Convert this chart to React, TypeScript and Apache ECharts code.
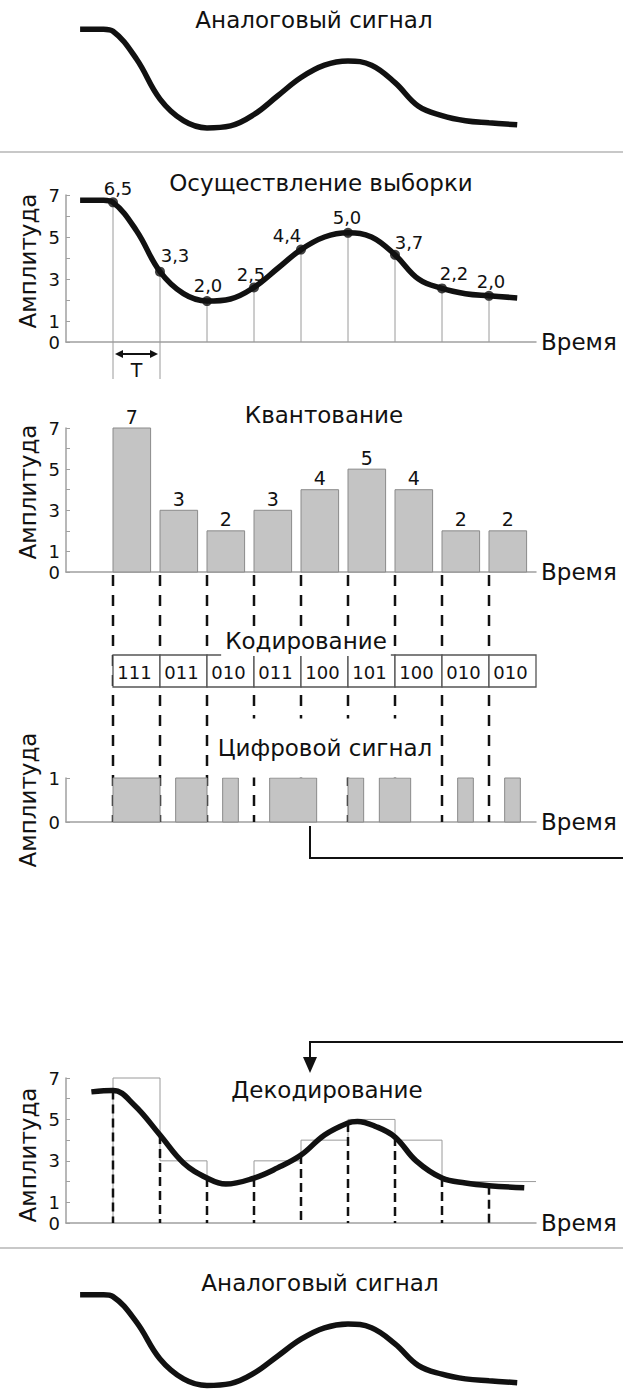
import React, { useEffect, useRef } from "react";
import * as echarts from "echarts";

// ---------- data ----------
const sampleTimes = [1, 2, 3, 4, 5, 6, 7, 8, 9];
const sampleLabels = ["6,5", "3,3", "2,0", "2,5", "4,4", "5,0", "3,7", "2,2", "2,0"];
const sampleDots = [6.65, 3.35, 1.95, 2.6, 4.4, 5.2, 4.15, 2.55, 2.2];
const analogCurve = [
  [0.3, 6.75], [0.8, 6.75], [1, 6.65], [1.5, 5.3], [2, 3.35], [2.5, 2.3],
  [3, 1.95], [3.5, 2.05], [4, 2.6], [4.5, 3.5], [5, 4.4], [5.5, 5.0],
  [6, 5.2], [6.5, 5.0], [7, 4.15], [7.5, 3.0], [8, 2.55], [8.5, 2.3],
  [9, 2.2], [9.6, 2.1],
];
const quantLevels = [7, 3, 2, 3, 4, 5, 4, 2, 2];
const codeWords = ["111", "011", "010", "011", "100", "101", "100", "010", "010"];
const decodeCurve = [
  [0.54, 6.33], [1, 6.4], [1.45, 5.7], [2, 4.25], [2.5, 2.9], [3, 2.17],
  [3.4, 1.88], [4, 2.17], [4.5, 2.66], [5, 3.28], [5.5, 4.25], [6, 4.83],
  [6.2, 4.9], [6.6, 4.65], [7, 4.15], [7.45, 3.0], [8, 2.17], [8.5, 1.93],
  [9, 1.8], [9.75, 1.7],
];
const decodeDrops = [6.4, 4.25, 2.17, 2.17, 3.28, 4.83, 4.15, 2.17, 1.8];
const yTickLabels = [0, 1, 3, 5, 7];
const digitalTickLabels = [0, 1];

// ---------- layout / style ----------
const W = 623;
const H = 1394;
const FONT = '"DejaVu Sans", "Liberation Sans", Arial, sans-serif';
const INK = "#111";
const AXIS = "#a0a0a0";
const BAR_FILL = "#c4c4c4";
const BAR_STROKE = "#8a8a8a";
const BAR_W = 0.8;
const GRID_LEFT = 66;
const GRID_W = 470;
const labelOffsets = [[5, -14], [15, -16], [1, -16], [-3, -13], [-14, -14], [-1, -15], [14, -12], [12, -15], [2, -14]];

const gridBoxes = [
  { top: 24, height: 144 }, // 0 top analog
  { top: 195, height: 147 }, // 1 sampling
  { top: 428, height: 144 }, // 2 quantization
  { top: 575, height: 247 }, // 3 connectors
  { top: 778, height: 44 }, // 4 digital
  { top: 655, height: 32 }, // 5 code box
  { top: 1078, height: 145 }, // 6 decoding
  { top: 1290, height: 105 }, // 7 bottom analog
];

function buildRuns() {
  const bits = codeWords.join("").split("").map(Number);
  const runs: number[][] = [];
  let k = 0;
  while (k < bits.length) {
    if (bits[k] === 1) {
      const s = k;
      while (k < bits.length && bits[k] === 1) k++;
      runs.push([sampleTimes[0] + s / 3, sampleTimes[0] + k / 3]);
    } else k++;
  }
  return runs;
}

function xAxisFor(i: number, visible: boolean) {
  return {
    gridIndex: i,
    type: "value",
    min: 0,
    max: 10,
    show: visible,
    axisLine: { show: visible, onZero: false, lineStyle: { color: AXIS, width: 1.5 } },
    axisTick: { show: false },
    axisLabel: { show: false },
    splitLine: { show: false },
    name: visible ? "Время" : "",
    nameLocation: "end",
    nameGap: 5,
    nameTextStyle: { fontSize: 23, color: INK, fontFamily: FONT },
  };
}

function yAxisFor(i: number, visible: boolean, min: number, max: number, shown: number[]) {
  return {
    gridIndex: i,
    type: "value",
    min,
    max,
    interval: 1,
    show: visible,
    axisLine: { show: visible, lineStyle: { color: AXIS, width: 1.5 } },
    axisTick: { show: visible, inside: true, length: 4, lineStyle: { color: AXIS } },
    axisLabel: {
      show: visible,
      margin: 6,
      fontSize: 18,
      color: INK,
      fontFamily: FONT,
      formatter: (v: number) => (shown.indexOf(v) >= 0 ? String(v) : ""),
    },
    splitLine: { show: false },
  };
}

function thickLine(idx: number, data: number[][], width: number) {
  return {
    type: "line",
    xAxisIndex: idx,
    yAxisIndex: idx,
    data,
    smooth: 0.4,
    symbol: "none",
    clip: false,
    lineStyle: { color: "#111", width },
    z: 4,
  };
}

export default function App() {
  const ref = useRef<HTMLDivElement>(null);

  useEffect(() => {
    if (!ref.current) return;
    const chart = echarts.init(ref.current, undefined, { renderer: "svg" });
    const runs = buildRuns();

    const grid = gridBoxes.map((g) => ({ left: GRID_LEFT, width: GRID_W, top: g.top, height: g.height, containLabel: false }));
    const xAxis = [
      xAxisFor(0, false),
      xAxisFor(1, true),
      xAxisFor(2, true),
      xAxisFor(3, false),
      xAxisFor(4, true),
      xAxisFor(5, false),
      xAxisFor(6, true),
      xAxisFor(7, false),
    ];
    const yAxis = [
      yAxisFor(0, false, 0, 7, yTickLabels),
      yAxisFor(1, true, 0, 7, yTickLabels),
      yAxisFor(2, true, 0, 7, yTickLabels),
      yAxisFor(3, false, 0, 1, digitalTickLabels),
      yAxisFor(4, true, 0, 1, digitalTickLabels),
      yAxisFor(5, false, 0, 1, digitalTickLabels),
      yAxisFor(6, true, 0, 7, yTickLabels),
      yAxisFor(7, false, 1.5, 7, yTickLabels),
    ];

    const series: any[] = [
      // top analog
      thickLine(0, analogCurve, 5.5),
      // sampling stems
      {
        type: "custom",
        xAxisIndex: 1,
        yAxisIndex: 1,
        clip: false,
        z: 2,
        data: sampleTimes.map((t, i) => [t, sampleDots[i]]),
        renderItem: (params: any, api: any) => {
          const t = api.value(0);
          const v = api.value(1);
          const a = api.coord([t, v]);
          const b = api.coord([t, 0]);
          const ext = params.dataIndex < 2 ? 37 : 0;
          return {
            type: "line",
            shape: { x1: a[0], y1: a[1], x2: b[0], y2: b[1] + ext },
            style: { stroke: "#9a9a9a", lineWidth: 1 },
          };
        },
      },
      // T bracket
      {
        type: "custom",
        xAxisIndex: 1,
        yAxisIndex: 1,
        clip: false,
        z: 3,
        data: [[sampleTimes[0], sampleTimes[1]]],
        renderItem: (params: any, api: any) => {
          const a = api.coord([api.value(0), 0]);
          const b = api.coord([api.value(1), 0]);
          const y = a[1] + 12;
          const x1 = a[0] + 2;
          const x2 = b[0] - 2;
          return {
            type: "group",
            children: [
              { type: "line", shape: { x1: x1 + 4, y1: y, x2: x2 - 4, y2: y }, style: { stroke: "#111", lineWidth: 2 } },
              { type: "polygon", shape: { points: [[x1, y], [x1 + 8, y - 4], [x1 + 8, y + 4]] }, style: { fill: "#111" } },
              { type: "polygon", shape: { points: [[x2, y], [x2 - 8, y - 4], [x2 - 8, y + 4]] }, style: { fill: "#111" } },
              {
                type: "text",
                x: (a[0] + b[0]) / 2,
                y: y + 16,
                style: { text: "T", fontSize: 19, fontFamily: FONT, fill: INK, align: "center", verticalAlign: "middle" },
              },
            ],
          };
        },
      },
      thickLine(1, analogCurve, 5.5),
      // sample dots
      {
        type: "scatter",
        xAxisIndex: 1,
        yAxisIndex: 1,
        symbolSize: 10,
        z: 5,
        itemStyle: { color: "#111" },
        data: sampleTimes.map((t, i) => [t, sampleDots[i]]),
      },
      // sample value labels
      {
        type: "custom",
        xAxisIndex: 1,
        yAxisIndex: 1,
        clip: false,
        z: 6,
        data: sampleTimes.map((t, i) => [t, sampleDots[i]]),
        renderItem: (params: any, api: any) => {
          const p = api.coord([api.value(0), api.value(1)]);
          const off = labelOffsets[params.dataIndex];
          return {
            type: "text",
            x: p[0] + off[0],
            y: p[1] + off[1],
            style: {
              text: sampleLabels[params.dataIndex],
              fontSize: 18,
              fontFamily: FONT,
              fill: INK,
              align: "center",
              verticalAlign: "middle",
            },
          };
        },
      },
      // quantization bars
      {
        type: "custom",
        xAxisIndex: 2,
        yAxisIndex: 2,
        clip: false,
        z: 3,
        data: sampleTimes.map((t, i) => [t, quantLevels[i]]),
        renderItem: (params: any, api: any) => {
          const t = api.value(0);
          const q = api.value(1);
          const a = api.coord([t, q]);
          const b = api.coord([t + BAR_W, 0]);
          return {
            type: "group",
            children: [
              {
                type: "rect",
                shape: { x: a[0], y: a[1], width: b[0] - a[0], height: b[1] - a[1] },
                style: { fill: BAR_FILL, stroke: BAR_STROKE, lineWidth: 1 },
              },
              {
                type: "text",
                x: (a[0] + b[0]) / 2,
                y: a[1] - 2,
                style: { text: String(q), fontSize: 19, fontFamily: FONT, fill: INK, align: "center", verticalAlign: "bottom" },
              },
            ],
          };
        },
      },
      // dashed connectors
      {
        type: "custom",
        xAxisIndex: 3,
        yAxisIndex: 3,
        clip: false,
        z: 1,
        data: sampleTimes.map((t) => [t, 1]),
        renderItem: (params: any, api: any) => {
          const t = api.value(0);
          const a = api.coord([t, 1]);
          const b = api.coord([t, 0]);
          return {
            type: "line",
            shape: { x1: a[0], y1: a[1], x2: b[0], y2: b[1] },
            style: { stroke: "#111", lineWidth: 2.5, lineDash: [11, 9] },
          };
        },
      },
      // digital bars
      {
        type: "custom",
        xAxisIndex: 4,
        yAxisIndex: 4,
        clip: false,
        z: 5,
        data: runs,
        renderItem: (params: any, api: any) => {
          const a = api.coord([api.value(0), 1]);
          const b = api.coord([api.value(1), 0]);
          return {
            type: "rect",
            shape: { x: a[0], y: a[1], width: b[0] - a[0], height: b[1] - a[1] },
            style: { fill: BAR_FILL, stroke: BAR_STROKE, lineWidth: 1 },
          };
        },
      },
      // code box
      {
        type: "custom",
        xAxisIndex: 5,
        yAxisIndex: 5,
        clip: false,
        z: 6,
        data: sampleTimes.map((t) => [t, 1]),
        renderItem: (params: any, api: any) => {
          const t = api.value(0);
          const a = api.coord([t, 1]);
          const b = api.coord([t + 1, 0]);
          return {
            type: "group",
            children: [
              {
                type: "rect",
                shape: { x: a[0], y: a[1], width: b[0] - a[0], height: b[1] - a[1] },
                style: { fill: "#fff", stroke: "#555", lineWidth: 1.3 },
              },
              {
                type: "text",
                x: (a[0] + b[0]) / 2 - 2,
                y: (a[1] + b[1]) / 2 + 1,
                style: { text: codeWords[params.dataIndex], fontSize: 18, fontFamily: FONT, fill: INK, align: "center", verticalAlign: "middle" },
              },
            ],
          };
        },
      },
      // decoding outline (step shape of quantized levels)
      {
        type: "custom",
        xAxisIndex: 6,
        yAxisIndex: 6,
        clip: false,
        z: 2,
        data: sampleTimes.map((t, i) => [t, quantLevels[i], i > 0 ? quantLevels[i - 1] : 0]),
        renderItem: (params: any, api: any) => {
          const t = api.value(0);
          const q = api.value(1);
          const prev = api.value(2);
          const p0 = api.coord([t, prev]);
          const p1 = api.coord([t, q]);
          const p2 = api.coord([t + 1, q]);
          return {
            type: "polyline",
            shape: { points: [p0, p1, p2] },
            style: { fill: "none", stroke: "#9a9a9a", lineWidth: 1 },
          };
        },
      },
      // decoding drops
      {
        type: "custom",
        xAxisIndex: 6,
        yAxisIndex: 6,
        clip: false,
        z: 3,
        data: sampleTimes.map((t, i) => [t, decodeDrops[i]]),
        renderItem: (params: any, api: any) => {
          const t = api.value(0);
          const a = api.coord([t, api.value(1)]);
          const b = api.coord([t, 0]);
          return {
            type: "line",
            shape: { x1: a[0], y1: a[1], x2: b[0], y2: b[1] },
            style: { stroke: "#111", lineWidth: 2.5, lineDash: [9, 5] },
          };
        },
      },
      thickLine(6, decodeCurve, 5.5),
      // bottom analog
      thickLine(7, analogCurve, 5.5),
    ];

    const titleText = (text: string, x: number, y: number, pad?: number[]) => ({
      type: "text",
      x,
      y,
      z: 100,
      style: {
        text,
        fontSize: 23,
        fontFamily: FONT,
        fill: INK,
        align: "center",
        verticalAlign: "middle",
        textAlign: "center",
        textVerticalAlign: "middle",
        backgroundColor: pad ? "#fff" : undefined,
        padding: pad,
      },
    });

    const ampText = (y: number) => ({
      type: "text",
      x: 28,
      y,
      rotation: Math.PI / 2,
      z: 100,
      style: {
        text: "Амплитуда",
        fontSize: 23,
        fontFamily: FONT,
        fill: INK,
        align: "center",
        verticalAlign: "middle",
        textAlign: "center",
        textVerticalAlign: "middle",
      },
    });

    const graphic = [
      { type: "line", z: 90, shape: { x1: 0, y1: 152, x2: W, y2: 152 }, style: { stroke: "#c8c8c8", lineWidth: 2 } },
      { type: "line", z: 90, shape: { x1: 0, y1: 1248, x2: W, y2: 1248 }, style: { stroke: "#c8c8c8", lineWidth: 2 } },
      titleText("Аналоговый сигнал", 314, 20),
      titleText("Осуществление выборки", 321, 183),
      titleText("Квантование", 324, 415),
      titleText("Кодирование", 306, 641, [5, 4, 2, 4]),
      titleText("Цифровой сигнал", 325, 748, [30, 4, 6, 4]),
      titleText("Декодирование", 327, 1090),
      titleText("Аналоговый сигнал", 320, 1283),
      ampText(261),
      ampText(492),
      ampText(800),
      ampText(1155),
      { type: "polyline", z: 90, shape: { points: [[310, 826], [310, 858], [W, 858]] }, style: { stroke: "#111", lineWidth: 2, fill: "none" } },
      { type: "polyline", z: 90, shape: { points: [[W, 1042], [310, 1042], [310, 1060]] }, style: { stroke: "#111", lineWidth: 2, fill: "none" } },
      { type: "polygon", z: 90, shape: { points: [[303, 1057], [317, 1057], [310, 1073]] }, style: { fill: "#111" } },
    ];

    chart.setOption({
      animation: false,
      backgroundColor: "#fff",
      grid,
      xAxis,
      yAxis,
      series,
      graphic,
    });

    return () => chart.dispose();
  }, []);

  return <div ref={ref} style={{ position: "absolute", left: 0, top: 0, width: W, height: H }} />;
}
